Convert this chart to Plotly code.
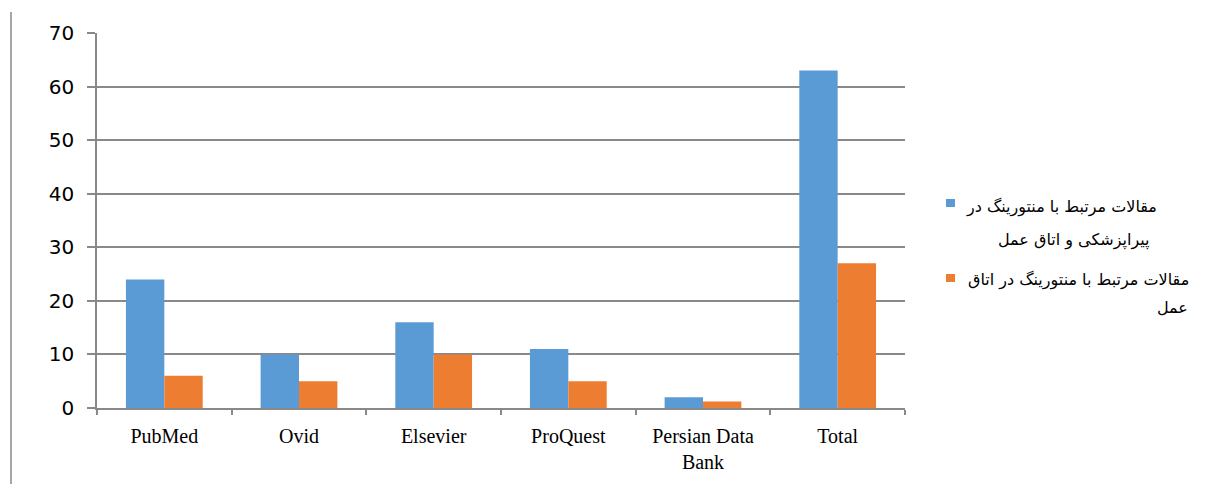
import plotly.graph_objects as go

categories = ["PubMed", "Ovid", "Elsevier", "ProQuest", "Persian Data<br>Bank", "Total"]
series1_name = "مقالات مرتبط با منتورینگ در پیراپزشکی و اتاق عمل"
series2_name = "مقالات مرتبط با منتورینگ در اتاق عمل"
series1_values = [24, 10, 16, 11, 2, 63]
series2_values = [6, 5, 10, 5, 1.2, 27]
y_ticks = [0, 10, 20, 30, 40, 50, 60, 70]
legend1_lines = ["مقالات مرتبط با منتورینگ در", "پیراپزشکی و اتاق عمل"]
legend2_lines = ["مقالات مرتبط با منتورینگ در اتاق", "عمل"]

blue = "#5B9BD5"
orange = "#ED7D31"
grid = "#898989"

fig = go.Figure()
fig.add_trace(go.Bar(x=categories, y=series1_values, name=series1_name,
                     marker=dict(color=blue, line=dict(width=0))))
fig.add_trace(go.Bar(x=categories, y=series2_values, name=series2_name,
                     marker=dict(color=orange, line=dict(width=0))))

# page body has an 8px margin; figure is placed at (8, 8)
OFF = 8
W, H = 1202, 476
L, R, T, B = 97 - OFF, 305, 33 - OFF, 76
pw, ph = W - L - R, H - T - B

def px_x(x):  # page pixel -> paper
    return (x - OFF - L) / pw

def px_y(y):
    return (H - B - (y - OFF)) / ph

fig.update_layout(
    width=W, height=H,
    margin=dict(l=L, r=R, t=T, b=B, pad=0),
    paper_bgcolor="white", plot_bgcolor="white",
    barmode="group", bargap=0.43, bargroupgap=0,
    showlegend=False,
    xaxis=dict(
        type="category",
        showline=True, linecolor=grid, linewidth=1.5,
        ticks="outside", tickson="boundaries", ticklen=5, tickcolor=grid, tickwidth=1.5,
        ticklabelstandoff=9,
        tickfont=dict(family="Liberation Serif", size=20, color="#000000"),
        showgrid=False,
    ),
    yaxis=dict(
        range=[0, 70], tickvals=y_ticks,
        showline=True, linecolor=grid, linewidth=1.5,
        ticks="outside", ticklen=8, tickcolor=grid, tickwidth=1.5,
        ticklabelstandoff=9,
        tickfont=dict(family="DejaVu Sans", size=20, color="#000000"),
        showgrid=True, gridcolor=grid, gridwidth=1.5,
        zeroline=False,
    ),
)

# chart-area left border
fig.add_shape(type="line", xref="paper", yref="paper",
              x0=px_x(11), x1=px_x(11), y0=px_y(12), y1=px_y(490),
              line=dict(color=grid, width=1.5))

# custom legend (right-aligned RTL text)
legend_items = [
    (blue, 199, 207, legend1_lines, [(1158, 207), (1151, 240)]),
    (orange, 274, 282, legend2_lines, [(1190, 280), (1189, 307)]),
]
for color, sy0, sy1, lines, pos in legend_items:
    fig.add_shape(type="rect", xref="paper", yref="paper",
                  x0=px_x(946), x1=px_x(955), y0=px_y(sy1), y1=px_y(sy0),
                  fillcolor=color, line=dict(width=0))
    for text, (xr, yc) in zip(lines, pos):
        fig.add_annotation(xref="paper", yref="paper", x=px_x(xr), y=px_y(yc),
                           xanchor="right", yanchor="middle", align="right",
                           text=text, showarrow=False, borderpad=0,
                           font=dict(family="DejaVu Sans", size=16, color="#000000"))

fig.write_html("out.html")
